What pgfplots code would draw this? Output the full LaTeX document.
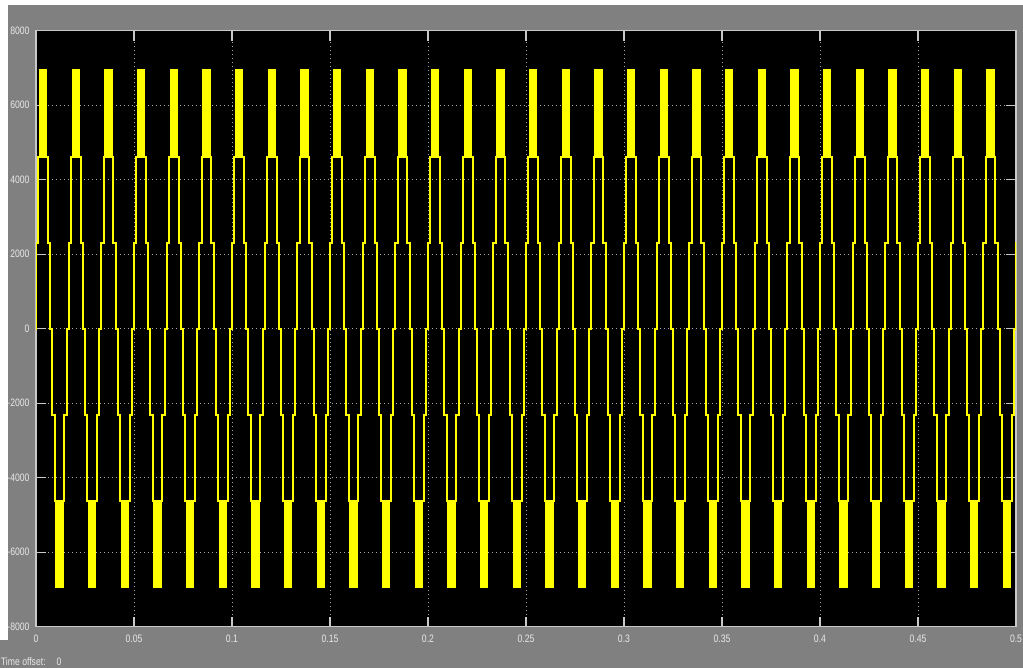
\documentclass[border=0pt]{standalone}
\usepackage{pgfplots}
\pgfplotsset{compat=1.18}
\usepackage{fontspec}
\setmainfont{Liberation Sans}[FakeStretch=0.8]
\definecolor{bggray}{RGB}{128,128,128}
\definecolor{lblcol}{RGB}{232,232,232}
\definecolor{gridcol}{RGB}{170,170,170}
\definecolor{tickcol}{RGB}{200,200,200}
\definecolor{wave}{RGB}{255,255,0}
\begin{document}
\begin{tikzpicture}
\fill[bggray] (0,0) rectangle (511.5pt,334pt);
\fill[white] (0,331.5pt) rectangle (511.5pt,334pt);
\fill[white] (0,14pt) rectangle (4pt,334pt);
\begin{axis}[
  at={(18pt,20.65pt)}, anchor=south west,
  scale only axis, width=490pt, height=298pt,
  xmin=0, xmax=0.5, ymin=-8000, ymax=8000,
  axis background/.style={fill=black},
  axis line style={draw=tickcol, line width=0.6pt},
  xtick={0,0.05,0.1,0.15,0.2,0.25,0.3,0.35,0.4,0.45,0.5},
  xticklabels={0,0.05,0.1,0.15,0.2,0.25,0.3,0.35,0.4,0.45,0.5},
  ytick={-8000,-6000,-4000,-2000,0,2000,4000,6000,8000},
  yticklabels={-8000,-6000,-4000,-2000,0,2000,4000,6000,8000},
  grid=major,
  grid style={draw=gridcol, line width=0.5pt, dash pattern=on 0.5pt off 1.5pt},
  tick align=inside, major tick length=5pt,
  tick style={draw=tickcol, line width=0.6pt},
  ticklabel style={font=\fontsize{5.4}{6.5}\selectfont, text=lblcol},
  xticklabel style={yshift=-0.5pt},
  yticklabel style={xshift=0.3pt},
  unbounded coords=jump,
  clip=true,
]
% staircase output
\addplot[const plot, draw=wave, line width=1pt] coordinates {
(0,0)(0.0001,2310)(0.00120,4620)(0.00610,2310)(0.00737,0)(0.00826,-2310)(0.00953,-4620)(0.01443,-2310)(0.01571,0)
(0.01660,2310)(0.01787,4620)(0.02277,2310)(0.02404,0)(0.02493,-2310)(0.02620,-4620)(0.03110,-2310)(0.03238,0)
(0.03326,2310)(0.03453,4620)(0.03943,2310)(0.04070,0)(0.04159,-2310)(0.04286,-4620)(0.04776,-2310)(0.04904,0)
(0.04993,2310)(0.05120,4620)(0.05610,2310)(0.05737,0)(0.05826,-2310)(0.05953,-4620)(0.06443,-2310)(0.06571,0)
(0.06660,2310)(0.06787,4620)(0.07277,2310)(0.07404,0)(0.07493,-2310)(0.07620,-4620)(0.08110,-2310)(0.08238,0)
(0.08326,2310)(0.08453,4620)(0.08943,2310)(0.09070,0)(0.09159,-2310)(0.09286,-4620)(0.09776,-2310)(0.09904,0)
(0.09993,2310)(0.10120,4620)(0.10610,2310)(0.10737,0)(0.10826,-2310)(0.10953,-4620)(0.11443,-2310)(0.11571,0)
(0.11660,2310)(0.11787,4620)(0.12277,2310)(0.12404,0)(0.12493,-2310)(0.12620,-4620)(0.13110,-2310)(0.13238,0)
(0.13326,2310)(0.13453,4620)(0.13943,2310)(0.14070,0)(0.14159,-2310)(0.14286,-4620)(0.14776,-2310)(0.14904,0)
(0.14993,2310)(0.15120,4620)(0.15610,2310)(0.15737,0)(0.15826,-2310)(0.15953,-4620)(0.16443,-2310)(0.16571,0)
(0.16660,2310)(0.16787,4620)(0.17277,2310)(0.17404,0)(0.17493,-2310)(0.17620,-4620)(0.18110,-2310)(0.18238,0)
(0.18326,2310)(0.18453,4620)(0.18943,2310)(0.19070,0)(0.19159,-2310)(0.19286,-4620)(0.19776,-2310)(0.19904,0)
(0.19993,2310)(0.20120,4620)(0.20610,2310)(0.20737,0)(0.20826,-2310)(0.20953,-4620)(0.21443,-2310)(0.21571,0)
(0.21660,2310)(0.21787,4620)(0.22277,2310)(0.22404,0)(0.22493,-2310)(0.22620,-4620)(0.23110,-2310)(0.23238,0)
(0.23326,2310)(0.23453,4620)(0.23943,2310)(0.24070,0)(0.24159,-2310)(0.24286,-4620)(0.24776,-2310)(0.24904,0)
(0.24993,2310)(0.25120,4620)(0.25610,2310)(0.25737,0)(0.25826,-2310)(0.25953,-4620)(0.26443,-2310)(0.26571,0)
(0.26660,2310)(0.26787,4620)(0.27277,2310)(0.27404,0)(0.27493,-2310)(0.27620,-4620)(0.28110,-2310)(0.28238,0)
(0.28326,2310)(0.28453,4620)(0.28943,2310)(0.29070,0)(0.29159,-2310)(0.29286,-4620)(0.29776,-2310)(0.29904,0)
(0.29993,2310)(0.30120,4620)(0.30610,2310)(0.30737,0)(0.30826,-2310)(0.30953,-4620)(0.31443,-2310)(0.31571,0)
(0.31660,2310)(0.31787,4620)(0.32277,2310)(0.32404,0)(0.32493,-2310)(0.32620,-4620)(0.33110,-2310)(0.33238,0)
(0.33326,2310)(0.33453,4620)(0.33943,2310)(0.34070,0)(0.34159,-2310)(0.34286,-4620)(0.34776,-2310)(0.34904,0)
(0.34993,2310)(0.35120,4620)(0.35610,2310)(0.35737,0)(0.35826,-2310)(0.35953,-4620)(0.36443,-2310)(0.36571,0)
(0.36660,2310)(0.36787,4620)(0.37277,2310)(0.37404,0)(0.37493,-2310)(0.37620,-4620)(0.38110,-2310)(0.38238,0)
(0.38326,2310)(0.38453,4620)(0.38943,2310)(0.39070,0)(0.39159,-2310)(0.39286,-4620)(0.39776,-2310)(0.39904,0)
(0.39993,2310)(0.40120,4620)(0.40610,2310)(0.40737,0)(0.40826,-2310)(0.40953,-4620)(0.41443,-2310)(0.41571,0)
(0.41660,2310)(0.41787,4620)(0.42277,2310)(0.42404,0)(0.42493,-2310)(0.42620,-4620)(0.43110,-2310)(0.43238,0)
(0.43326,2310)(0.43453,4620)(0.43943,2310)(0.44070,0)(0.44159,-2310)(0.44286,-4620)(0.44776,-2310)(0.44904,0)
(0.44993,2310)(0.45120,4620)(0.45610,2310)(0.45737,0)(0.45826,-2310)(0.45953,-4620)(0.46443,-2310)(0.46571,0)
(0.46660,2310)(0.46787,4620)(0.47277,2310)(0.47404,0)(0.47493,-2310)(0.47620,-4620)(0.48110,-2310)(0.48238,0)
(0.48326,2310)(0.48453,4620)(0.48943,2310)(0.49070,0)(0.49159,-2310)(0.49286,-4620)(0.49776,-2310)(0.49904,0)
(0.49993,2310)(0.5,2310)
};
% fast-switching peaks (solid blocks between 4620 and 6960)
\addplot[draw=wave, line width=4.1pt, line cap=butt] coordinates {
(0.00365,4620)(0.00365,6960)(0.00365,nan)(0.01198,-4620)(0.01198,-6960)(0.01198,nan)
(0.02032,4620)(0.02032,6960)(0.02032,nan)(0.02865,-4620)(0.02865,-6960)(0.02865,nan)
(0.03698,4620)(0.03698,6960)(0.03698,nan)(0.04531,-4620)(0.04531,-6960)(0.04531,nan)
(0.05365,4620)(0.05365,6960)(0.05365,nan)(0.06198,-4620)(0.06198,-6960)(0.06198,nan)
(0.07032,4620)(0.07032,6960)(0.07032,nan)(0.07865,-4620)(0.07865,-6960)(0.07865,nan)
(0.08698,4620)(0.08698,6960)(0.08698,nan)(0.09531,-4620)(0.09531,-6960)(0.09531,nan)
(0.10365,4620)(0.10365,6960)(0.10365,nan)(0.11198,-4620)(0.11198,-6960)(0.11198,nan)
(0.12032,4620)(0.12032,6960)(0.12032,nan)(0.12865,-4620)(0.12865,-6960)(0.12865,nan)
(0.13698,4620)(0.13698,6960)(0.13698,nan)(0.14531,-4620)(0.14531,-6960)(0.14531,nan)
(0.15365,4620)(0.15365,6960)(0.15365,nan)(0.16198,-4620)(0.16198,-6960)(0.16198,nan)
(0.17032,4620)(0.17032,6960)(0.17032,nan)(0.17865,-4620)(0.17865,-6960)(0.17865,nan)
(0.18698,4620)(0.18698,6960)(0.18698,nan)(0.19531,-4620)(0.19531,-6960)(0.19531,nan)
(0.20365,4620)(0.20365,6960)(0.20365,nan)(0.21198,-4620)(0.21198,-6960)(0.21198,nan)
(0.22032,4620)(0.22032,6960)(0.22032,nan)(0.22865,-4620)(0.22865,-6960)(0.22865,nan)
(0.23698,4620)(0.23698,6960)(0.23698,nan)(0.24531,-4620)(0.24531,-6960)(0.24531,nan)
(0.25365,4620)(0.25365,6960)(0.25365,nan)(0.26198,-4620)(0.26198,-6960)(0.26198,nan)
(0.27032,4620)(0.27032,6960)(0.27032,nan)(0.27865,-4620)(0.27865,-6960)(0.27865,nan)
(0.28698,4620)(0.28698,6960)(0.28698,nan)(0.29531,-4620)(0.29531,-6960)(0.29531,nan)
(0.30365,4620)(0.30365,6960)(0.30365,nan)(0.31198,-4620)(0.31198,-6960)(0.31198,nan)
(0.32032,4620)(0.32032,6960)(0.32032,nan)(0.32865,-4620)(0.32865,-6960)(0.32865,nan)
(0.33698,4620)(0.33698,6960)(0.33698,nan)(0.34531,-4620)(0.34531,-6960)(0.34531,nan)
(0.35365,4620)(0.35365,6960)(0.35365,nan)(0.36198,-4620)(0.36198,-6960)(0.36198,nan)
(0.37032,4620)(0.37032,6960)(0.37032,nan)(0.37865,-4620)(0.37865,-6960)(0.37865,nan)
(0.38698,4620)(0.38698,6960)(0.38698,nan)(0.39531,-4620)(0.39531,-6960)(0.39531,nan)
(0.40365,4620)(0.40365,6960)(0.40365,nan)(0.41198,-4620)(0.41198,-6960)(0.41198,nan)
(0.42032,4620)(0.42032,6960)(0.42032,nan)(0.42865,-4620)(0.42865,-6960)(0.42865,nan)
(0.43698,4620)(0.43698,6960)(0.43698,nan)(0.44531,-4620)(0.44531,-6960)(0.44531,nan)
(0.45365,4620)(0.45365,6960)(0.45365,nan)(0.46198,-4620)(0.46198,-6960)(0.46198,nan)
(0.47032,4620)(0.47032,6960)(0.47032,nan)(0.47865,-4620)(0.47865,-6960)(0.47865,nan)
(0.48698,4620)(0.48698,6960)(0.48698,nan)(0.49531,-4620)(0.49531,-6960)
};
\end{axis}
\node[anchor=west, inner sep=0pt, text=lblcol, font=\fontsize{5.4}{6.5}\selectfont] at (0.3pt,3.2pt) {Time offset:\hspace{5.5pt}0};
\pgfresetboundingbox
\path[use as bounding box] (0,0) rectangle (511.5pt,334pt);
\end{tikzpicture}
\end{document}
